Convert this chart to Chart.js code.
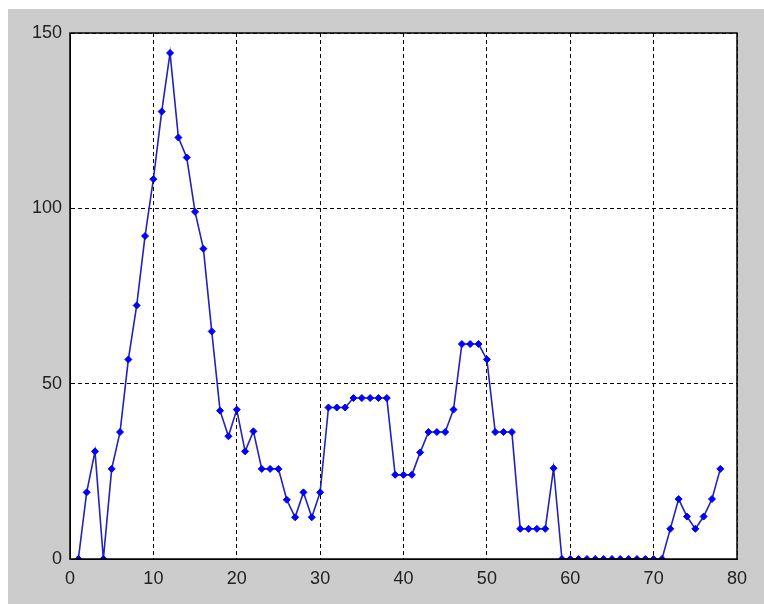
<!DOCTYPE html>
<html>
<head>
<meta charset="utf-8">
<script src="https://cdn.jsdelivr.net/npm/chart.js@4.4.0/dist/chart.umd.min.js"></script>
<style>
  html, body { margin: 0; padding: 0; background: #ffffff; }
  #plot { display: block; }
</style>
</head>
<body>
<canvas id="plot" width="764" height="604"></canvas>
<script>
const xs = [1,2,3,4,5,6,7,8,9,10,11,12,13,14,15,16,17,18,19,20,
            21,22,23,24,25,26,27,28,29,30,31,32,33,34,35,36,37,38,39,40,
            41,42,43,44,45,46,47,48,49,50,51,52,53,54,55,56,57,58,59,60,
            61,62,63,64,65,66,67,68,69,70,71,72,73,74,75,76,77,78];
const ys = [0,19.0,30.7,0,25.7,36.2,56.9,72.3,92.1,108.3,
            127.6,144.3,120.2,114.5,99.0,88.5,64.9,42.3,35.0,42.6,
            30.7,36.4,25.7,25.7,25.7,16.9,11.9,19.0,11.9,19.0,
            43.2,43.2,43.2,45.9,45.9,45.9,45.9,45.9,24.0,24.0,
            24.0,30.4,36.2,36.2,36.2,42.6,61.3,61.3,61.3,56.9,
            36.2,36.2,36.2,8.6,8.6,8.6,8.6,25.9,0,0,
            0,0,0,0,0,0,0,0,0,0,
            0,8.6,17.1,12.1,8.6,12.1,17.1,25.7];
const xTicks = [0,10,20,30,40,50,60,70,80];
const yTicks = [0,50,100,150];

const points = xs.map((x, i) => ({x: x, y: ys[i]}));

// gray figure, white axes, black box
const figureBg = {
  id: 'figureBg',
  beforeDraw(chart) {
    const ctx = chart.ctx;
    const a = chart.chartArea;
    ctx.save();
    ctx.fillStyle = '#ffffff';
    ctx.fillRect(0, 0, chart.width, chart.height);
    ctx.fillStyle = '#cccccc';
    ctx.fillRect(8, 9, chart.width - 8, chart.height - 9);
    ctx.fillStyle = '#ffffff';
    ctx.fillRect(a.left, a.top, a.right - a.left, a.bottom - a.top);
    ctx.restore();
  },
  afterDatasetsDraw(chart) {
    const ctx = chart.ctx;
    const a = chart.chartArea;
    ctx.save();
    ctx.strokeStyle = '#000000';
    ctx.lineWidth = 1.5;
    ctx.strokeRect(a.left, a.top, a.right - a.left, a.bottom - a.top);
    ctx.restore();
  }
};

const ctx = document.querySelector('#plot').getContext('2d');

new Chart(ctx, {
  type: 'line',
  data: {
    datasets: [{
      data: points,
      borderColor: '#2323b8',
      borderWidth: 1.6,
      backgroundColor: '#0000ff',
      pointBackgroundColor: '#0000ff',
      pointBorderColor: '#0000ff',
      pointStyle: 'rectRot',
      pointRadius: 3.5,
      pointBorderWidth: 1,
      tension: 0,
      fill: false
    }]
  },
  options: {
    responsive: false,
    animation: false,
    layout: { padding: { left: 0, top: 33, right: 27, bottom: 0 } },
    plugins: {
      legend: { display: false },
      tooltip: { enabled: false }
    },
    scales: {
      x: {
        type: 'linear',
        min: 0,
        max: 80,
        afterFit(scale) { scale.height = 45; },
        afterBuildTicks(scale) { scale.ticks = xTicks.map(v => ({value: v})); },
        grid: { color: '#000000', lineWidth: 1, drawTicks: false },
        border: { display: true, color: '#000000', width: 1, dash: [4, 3] },
        ticks: {
          padding: 9,
          color: '#222222',
          font: { family: 'Liberation Sans, Arial, sans-serif', size: 18 }
        }
      },
      y: {
        min: 0,
        max: 150,
        afterFit(scale) { scale.width = 70; },
        afterBuildTicks(scale) { scale.ticks = yTicks.map(v => ({value: v})); },
        grid: { color: '#000000', lineWidth: 1, drawTicks: false },
        border: { display: true, color: '#000000', width: 1, dash: [4, 3] },
        ticks: {
          padding: 8,
          color: '#222222',
          font: { family: 'Liberation Sans, Arial, sans-serif', size: 18 }
        }
      }
    }
  },
  plugins: [figureBg]
});
</script>
</body>
</html>
